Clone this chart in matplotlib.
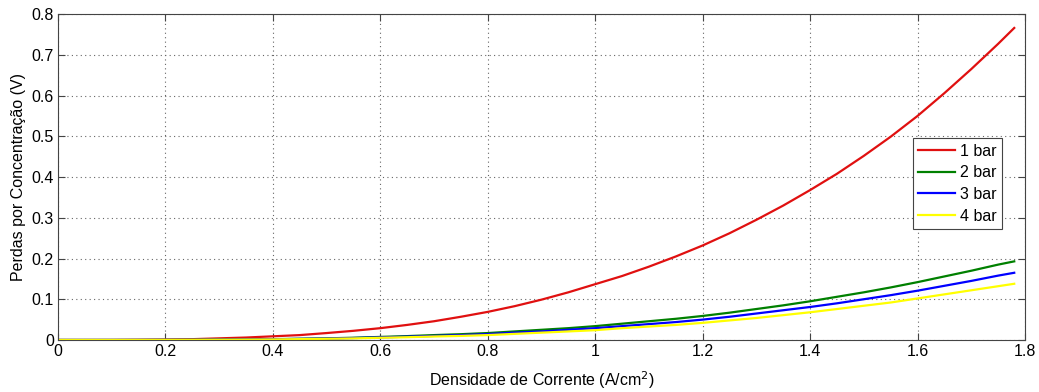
import matplotlib

matplotlib.use("Agg")
import matplotlib.pyplot as plt

plt.rcParams["font.family"] = ["Liberation Sans", "DejaVu Sans"]

# Current density (A/cm^2) and concentration losses (V)
densidade = [0.0, 0.05, 0.1, 0.15, 0.2, 0.25, 0.3, 0.35, 0.4, 0.45,
             0.5, 0.55, 0.6, 0.65, 0.7, 0.75, 0.8, 0.85, 0.9, 0.95,
             1.0, 1.05, 1.1, 1.15, 1.2, 1.25, 1.3, 1.35, 1.4, 1.45,
             1.5, 1.55, 1.6, 1.65, 1.7, 1.75, 1.78]
perdas_1bar = [0.0, 0.00002, 0.0001, 0.0005, 0.001, 0.002, 0.004, 0.006, 0.009, 0.012,
               0.017, 0.0225, 0.029, 0.037, 0.046, 0.057, 0.069, 0.083, 0.099, 0.117,
               0.137, 0.157, 0.180, 0.205, 0.232, 0.262, 0.295, 0.330, 0.368, 0.408,
               0.452, 0.499, 0.550, 0.606, 0.665, 0.727, 0.766]
perdas_2bar = [0.0, 0.000004, 0.00003, 0.0001, 0.0003, 0.0005, 0.001, 0.0014, 0.002, 0.003,
               0.004, 0.0055, 0.0075, 0.0095, 0.012, 0.0142, 0.017, 0.021, 0.025, 0.029,
               0.034, 0.040, 0.046, 0.052, 0.059, 0.067, 0.076, 0.085, 0.095, 0.106,
               0.117, 0.129, 0.142, 0.156, 0.170, 0.185, 0.193]
perdas_3bar = [0.0, 0.000003, 0.00003, 0.0001, 0.0003, 0.0004, 0.0008, 0.0012, 0.0017, 0.0026,
               0.0034, 0.0047, 0.0064, 0.0081, 0.010, 0.012, 0.0145, 0.018, 0.021, 0.025,
               0.029, 0.034, 0.039, 0.044, 0.050, 0.057, 0.065, 0.073, 0.081, 0.090,
               0.100, 0.110, 0.121, 0.133, 0.145, 0.158, 0.165]
perdas_4bar = [0.0, 0.000003, 0.00002, 0.0001, 0.0002, 0.0004, 0.0007, 0.001, 0.0014, 0.0021,
               0.0029, 0.0039, 0.0054, 0.0068, 0.0086, 0.010, 0.012, 0.015, 0.018, 0.021,
               0.024, 0.029, 0.033, 0.037, 0.042, 0.048, 0.054, 0.061, 0.068, 0.076,
               0.084, 0.092, 0.102, 0.112, 0.122, 0.132, 0.138]
rotulos = ["1 bar", "2 bar", "3 bar", "4 bar"]
cores = ["#e01010", "#008000", "#0000ff", "#ffff00"]

fig = plt.figure(figsize=(10.39, 3.92), dpi=100)
ax = fig.add_axes([0.0558, 0.1327, 0.9307, 0.8313])

for serie, rotulo, cor in zip(
    (perdas_1bar, perdas_2bar, perdas_3bar, perdas_4bar), rotulos, cores
):
    ax.plot(densidade, serie, color=cor, linewidth=1.6, label=rotulo)

ax.set_xlim(0, 1.8)
ax.set_ylim(0, 0.8)
ax.set_xticks([0, 0.2, 0.4, 0.6, 0.8, 1.0, 1.2, 1.4, 1.6, 1.8])
ax.set_xticklabels(["0", "0.2", "0.4", "0.6", "0.8", "1", "1.2", "1.4", "1.6", "1.8"])
ax.set_yticks([0, 0.1, 0.2, 0.3, 0.4, 0.5, 0.6, 0.7, 0.8])
ax.set_yticklabels(["0", "0.1", "0.2", "0.3", "0.4", "0.5", "0.6", "0.7", "0.8"])
ax.grid(True, linestyle=(0, (1, 3)), color="#666666", linewidth=0.8)
ax.tick_params(direction="in", top=True, right=True, length=5, labelsize=11.5,
               color="#444444", pad=3)
for spine in ax.spines.values():
    spine.set_color("#444444")

ax.set_xlabel("Densidade de Corrente (A/cm$^2$)", fontsize=11.5, labelpad=7)
ax.set_ylabel("Perdas por Concentração (V)", fontsize=11.5, labelpad=4)

leg = ax.legend(loc="upper left", bbox_to_anchor=(0.884, 0.62), fontsize=11.5,
                fancybox=False, framealpha=1, edgecolor="#444444",
                handlelength=2.3, handletextpad=0.3, borderpad=0.35,
                labelspacing=0.42, borderaxespad=0)
leg.get_frame().set_linewidth(0.8)

fig.savefig("out.png", dpi=100)
